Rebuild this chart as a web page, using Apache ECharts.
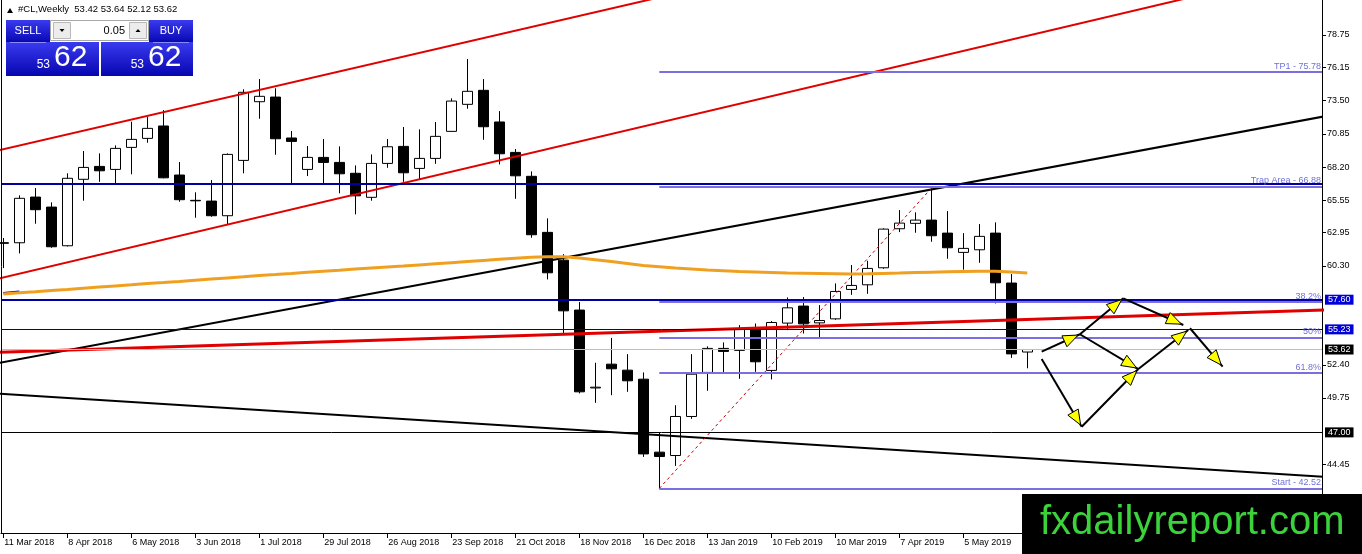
<!DOCTYPE html>
<html>
<head>
<meta charset="utf-8">
<title>#CL,Weekly</title>
<script src="https://cdn.jsdelivr.net/npm/echarts@6/dist/echarts.min.js"></script>
<style>
html, body { margin: 0; padding: 0; background: #fff; }
#main { width: 1362px; height: 554px; }
</style>
</head>
<body>
<div id="main"></div>
<script>
// weekly bars, week 0 = 11 Mar 2018, last = 2 Jun 2019
var opens  = [62.10, 62.15, 65.80, 65.00, 61.91, 67.22, 68.25, 68.01, 69.77, 70.49,
              71.48, 67.56, 65.54, 65.48, 64.31, 68.73, 73.42, 73.79, 70.52, 68.01,
              68.97, 68.57, 67.70, 65.78, 68.49, 69.85, 68.09, 68.89, 71.05, 73.21,
              74.33, 71.80, 69.37, 67.46, 62.98, 60.76, 56.77, 50.55, 52.45, 51.97,
              51.25, 45.42, 45.15, 48.27, 51.79, 53.71, 53.55, 55.23, 51.95, 55.73,
              57.09, 55.75, 56.07, 58.42, 58.79, 60.15, 63.27, 63.70, 63.96, 62.92,
              61.38, 61.59, 62.92, 58.93, 53.42];
var closes = [62.16, 65.70, 64.79, 61.83, 67.30, 68.17, 67.90, 69.69, 70.41, 71.29,
              67.34, 65.59, 65.50, 64.31, 69.21, 74.17, 73.85, 70.46, 70.25, 68.97,
              68.57, 67.66, 65.90, 68.49, 69.82, 67.74, 68.89, 70.65, 73.47, 74.25,
              71.42, 69.26, 67.50, 62.79, 59.75, 56.71, 50.24, 50.61, 52.08, 51.12,
              45.28, 45.07, 48.27, 51.65, 53.71, 53.47, 55.23, 52.64, 55.78, 56.95,
              55.67, 55.94, 58.26, 58.74, 60.10, 63.24, 63.72, 63.96, 62.71, 61.75,
              61.70, 62.66, 58.95, 53.27, 53.62];
var lows   = [60.13, 61.30, 63.67, 61.75, 61.85, 65.51, 67.02, 66.90, 67.62, 70.14,
              67.30, 65.43, 64.15, 64.23, 63.62, 67.70, 72.06, 69.18, 66.90, 67.48,
              66.90, 66.10, 64.42, 65.51, 68.14, 67.02, 67.24, 68.46, 71.00, 72.86,
              70.38, 68.41, 65.66, 62.55, 59.22, 54.90, 50.11, 49.36, 49.97, 50.24,
              45.04, 42.52, 44.32, 48.08, 50.32, 51.79, 51.28, 51.84, 51.23, 55.17,
              54.90, 54.61, 55.99, 57.99, 58.07, 60.07, 63.00, 62.95, 62.23, 60.87,
              60.00, 60.55, 57.30, 52.95, 52.12];
var highs  = [62.53, 65.94, 66.52, 65.38, 67.70, 69.48, 69.29, 69.93, 71.82, 72.22,
              72.75, 68.60, 66.18, 67.16, 69.29, 74.41, 75.23, 74.49, 71.08, 69.88,
              70.44, 69.85, 68.33, 69.21, 70.44, 71.40, 71.21, 71.80, 73.69, 76.83,
              75.23, 72.67, 69.64, 67.85, 64.10, 61.24, 57.41, 52.56, 54.55, 53.25,
              51.79, 46.96, 49.17, 53.25, 53.87, 54.19, 55.57, 55.70, 55.89, 57.78,
              57.81, 57.17, 58.90, 60.37, 60.71, 63.30, 64.76, 64.58, 66.50, 64.68,
              62.92, 63.64, 63.78, 59.65, 53.64];
// orange moving average
var maValues = [58.06, 58.15, 58.24, 58.34, 58.42, 58.52, 58.61, 58.70, 58.79, 58.89,
                58.97, 59.06, 59.16, 59.25, 59.34, 59.43, 59.53, 59.61, 59.70, 59.80,
                59.88, 59.96, 60.05, 60.13, 60.21, 60.29, 60.38, 60.47, 60.56, 60.65,
                60.74, 60.83, 60.92, 61.00, 61.04, 61.03, 60.93, 60.80, 60.65, 60.49,
                60.33, 60.23, 60.13, 60.05, 59.97, 59.91, 59.85, 59.81, 59.77, 59.73,
                59.71, 59.69, 59.67, 59.65, 59.67, 59.70, 59.73, 59.77, 59.80, 59.83,
                59.85, 59.87, 59.87, 59.81, 59.73];

var tickWeeks = [0, 4, 8, 12, 16, 20, 24, 28, 32, 36, 40, 44, 48, 52, 56, 60];
var tickDates = ['11 Mar 2018', '8 Apr 2018', '6 May 2018', '3 Jun 2018', '1 Jul 2018',
                 '29 Jul 2018', '26 Aug 2018', '23 Sep 2018', '21 Oct 2018', '18 Nov 2018',
                 '16 Dec 2018', '13 Jan 2019', '10 Feb 2019', '10 Mar 2019', '7 Apr 2019', '5 May 2019'];
var priceTicks = [78.75, 76.15, 73.50, 70.85, 68.20, 65.55, 62.95, 60.30, 52.40, 49.75, 44.45, 41.80];

// trend lines [week, price]
var channelUp   = [[-1, 69.32], [45, 82.94]];
var channelDown = [[-1, 59.07], [80, 83.51]];
var blackUp     = [[-0.5, 52.50], [83, 72.35]];
var blackDown   = [[-0.5, 50.11], [83, 43.41]];
var redSupport  = [[-0.5, 53.38], [83, 56.80]];
var fibTrend    = [[41, 42.52], [58, 66.50]];
var blueStub    = [[0, 58.14], [1, 58.26]];

// horizontal levels
var trapLevel = 66.90;
var resLevel = 57.60;
var midLevel = 55.23;
var bidLevel = 53.62;
var stopLevel = 47.00;
var fibStartWeek = 41;
var fibLevels = [75.78, 66.65, 57.43, 54.58, 51.74, 42.52];
var fibNames  = ['TP1 - 75.78', 'Trap Area - 66.88', '38.2%', '50%', '61.8%', 'Start - 42.52'];

// forecast arrows [week1, price1, week2, price2]
var arrows = [
  [64.9, 53.45, 67.29, 54.84],
  [67.29, 54.84, 70.0, 57.71],
  [70.0, 57.71, 73.75, 55.58],
  [67.29, 54.84, 70.94, 52.06],
  [64.9, 52.86, 67.4, 47.45],
  [67.4, 47.45, 70.94, 52.06],
  [70.94, 52.06, 74.06, 55.18],
  [74.17, 55.32, 76.21, 52.25]
];

var xMin = -0.144, xMax = 82.42;
var font = '"Liberation Sans", Arial, sans-serif';

var candles = [], maLine = [];
for (var i = 0; i < opens.length; i++) {
  candles.push([i, opens[i], closes[i], lows[i], highs[i]]);
  maLine.push([i, maValues[i]]);
}

function boxLabel(bg) {
  return {
    show: true, position: 'end', distance: 3,
    formatter: function (p) { return p.value.toFixed(2); },
    color: '#fff', backgroundColor: bg, padding: [1, 3, 0, 3],
    fontSize: 9, fontFamily: font
  };
}

var fibLines = fibLevels.map(function (v, i) {
  return [
    {
      coord: [fibStartWeek, v],
      lineStyle: { color: '#7b6fe0', width: 2, type: 'solid' },
      label: { show: true, position: 'insideEndTop', distance: 1, formatter: fibNames[i],
               color: '#7070d8', fontSize: 9, fontFamily: font }
    },
    { coord: [xMax, v] }
  ];
});

var last = opens.length - 1;
var ohlc = [opens[last], highs[last], lows[last], closes[last]].map(function (v) { return v.toFixed(2); });
var priceParts = closes[last].toFixed(2).split('.');

function lineSeries(name, data, color, width, type) {
  return {
    type: 'line', name: name, data: data, showSymbol: false, symbol: 'none',
    clip: true, silent: true, z: 4,
    lineStyle: { color: color, width: width, type: type || 'solid' }
  };
}

var blue = new echarts.graphic.LinearGradient(0, 0, 0, 1, [
  { offset: 0, color: '#3a3af0' }, { offset: 1, color: '#0606b0' }
]);

var myChart = echarts.init(document.getElementById('main'));
var option = {
  animation: false,
  backgroundColor: '#fff',
  grid: { left: 1, right: 40, top: 0, bottom: 21 },
  xAxis: {
    type: 'value', min: xMin, max: xMax,
    splitLine: { show: false },
    axisLine: { show: true, onZero: false, lineStyle: { color: '#000', width: 1 } },
    axisTick: { show: true, customValues: tickWeeks, length: 5, lineStyle: { color: '#000' } },
    axisLabel: {
      customValues: tickWeeks, align: 'left', margin: 5, padding: [0, 0, 0, 1],
      color: '#000', fontSize: 9, fontFamily: font,
      formatter: function (v) { return tickDates[tickWeeks.indexOf(v)] || ''; }
    }
  },
  yAxis: {
    type: 'value', position: 'right', min: 38.96, max: 81.546,
    splitLine: { show: false },
    axisLine: { show: true, onZero: false, lineStyle: { color: '#000', width: 1 } },
    axisTick: { show: true, customValues: priceTicks, length: 4, lineStyle: { color: '#000' } },
    axisLabel: {
      customValues: priceTicks, margin: 5, color: '#000', fontSize: 9, fontFamily: font,
      formatter: function (v) { return v.toFixed(2); }
    }
  },
  series: [
    {
      type: 'candlestick', name: '#CL,Weekly', data: candles,
      encode: { x: 0, y: [1, 2, 3, 4] },
      barWidth: 10, z: 2, silent: true,
      itemStyle: { color: '#fff', color0: '#000', borderColor: '#000', borderColor0: '#000', borderWidth: 1 }
    },
    lineSeries('channel up', channelUp, '#e00000', 2),
    lineSeries('channel down', channelDown, '#e00000', 2),
    lineSeries('trend up', blackUp, '#000', 2),
    lineSeries('trend down', blackDown, '#000', 2),
    lineSeries('support', redSupport, '#e00000', 3),
    lineSeries('fib trend', fibTrend, '#c00000', 1, [3, 3]),
    lineSeries('ma stub', blueStub, '#0000c0', 2),
    {
      type: 'line', name: 'MA', data: maLine, showSymbol: false, symbol: 'none',
      silent: true, z: 4, lineStyle: { color: '#f0a020', width: 3 },
      markLine: {
        silent: true, symbol: ['none', 'none'], animation: false,
        data: [
          { yAxis: trapLevel, lineStyle: { color: '#0000a0', width: 2, type: 'solid' }, label: { show: false } },
          { yAxis: resLevel, lineStyle: { color: '#0000a0', width: 2, type: 'solid' }, label: boxLabel('#0000d8') },
          { yAxis: midLevel, lineStyle: { color: '#0000a0', width: 1, type: 'solid' }, label: boxLabel('#0000d8') },
          { yAxis: bidLevel, lineStyle: { color: '#c0c0c0', width: 1, type: 'solid' }, label: boxLabel('#000') },
          { yAxis: stopLevel, lineStyle: { color: '#000', width: 1, type: 'solid' }, label: boxLabel('#000') }
        ].concat(fibLines)
      }
    },
    {
      type: 'custom', name: 'forecast', data: arrows,
      encode: { x: [0, 2], y: [1, 3] }, z: 6, silent: true, clip: false,
      renderItem: function (params, api) {
        var a = api.coord([api.value(0), api.value(1)]);
        var b = api.coord([api.value(2), api.value(3)]);
        var dx = b[0] - a[0], dy = b[1] - a[1];
        var len = Math.sqrt(dx * dx + dy * dy);
        var ux = dx / len, uy = dy / len;
        var tip = [b[0] - ux * 2, b[1] - uy * 2];
        var base = [tip[0] - ux * 15, tip[1] - uy * 15];
        var nx = -uy * 6, ny = ux * 6;
        return {
          type: 'group',
          children: [
            { type: 'line', shape: { x1: a[0], y1: a[1], x2: b[0], y2: b[1] },
              style: { stroke: '#000', lineWidth: 2 } },
            { type: 'polygon', shape: { points: [tip, [base[0] + nx, base[1] + ny], [base[0] - nx, base[1] - ny]] },
              style: { fill: '#ffff00', stroke: '#000', lineWidth: 1 } }
          ]
        };
      }
    }
  ],
  graphic: [
    // left frame of the chart window
    { type: 'line', shape: { x1: 1.5, y1: 0, x2: 1.5, y2: 533 }, style: { stroke: '#000', lineWidth: 1 }, z: 50 },
    // header
    { type: 'polygon', shape: { points: [[7, 13], [13, 13], [10, 8]] }, style: { fill: '#000' }, z: 100 },
    { type: 'text', left: 18, top: 4, z: 100,
      style: { text: '#CL,Weekly  ' + ohlc.join(' '), fill: '#000', font: '9.5px ' + font } },
    // sell / buy panel
    { type: 'rect', shape: { x: 6, y: 20, width: 44, height: 23 }, style: { fill: blue }, z: 100 },
    { type: 'rect', shape: { x: 6, y: 42, width: 93, height: 34 }, style: { fill: blue }, z: 100 },
    { type: 'rect', shape: { x: 149, y: 20, width: 44, height: 23 }, style: { fill: blue }, z: 100 },
    { type: 'rect', shape: { x: 101, y: 42, width: 92, height: 34 }, style: { fill: blue }, z: 100 },
    { type: 'line', shape: { x1: 10, y1: 42.5, x2: 46, y2: 42.5 }, style: { stroke: '#8a8aff', lineWidth: 1 }, z: 101 },
    { type: 'line', shape: { x1: 153, y1: 42.5, x2: 189, y2: 42.5 }, style: { stroke: '#8a8aff', lineWidth: 1 }, z: 101 },
    { type: 'rect', shape: { x: 50.5, y: 20.5, width: 98, height: 20 }, style: { fill: '#fff', stroke: '#a8a8a8', lineWidth: 1 }, z: 100 },
    { type: 'rect', shape: { x: 53.5, y: 22.5, width: 17, height: 16 }, style: { fill: '#ececec', stroke: '#b8b8b8', lineWidth: 1 }, z: 101 },
    { type: 'rect', shape: { x: 129.5, y: 22.5, width: 17, height: 16 }, style: { fill: '#ececec', stroke: '#b8b8b8', lineWidth: 1 }, z: 101 },
    { type: 'polygon', shape: { points: [[59.5, 29], [64.5, 29], [62, 32]] }, style: { fill: '#000' }, z: 102 },
    { type: 'polygon', shape: { points: [[135.5, 32], [140.5, 32], [138, 29]] }, style: { fill: '#000' }, z: 102 },
    { type: 'text', x: 125, y: 31, z: 102,
      style: { text: '0.05', fill: '#000', font: '11px ' + font, align: 'right', verticalAlign: 'middle' } },
    { type: 'text', x: 28, y: 31, z: 102,
      style: { text: 'SELL', fill: '#fff', font: '11px ' + font, align: 'center', verticalAlign: 'middle' } },
    { type: 'text', x: 171, y: 31, z: 102,
      style: { text: 'BUY', fill: '#fff', font: '11px ' + font, align: 'center', verticalAlign: 'middle' } },
    { type: 'text', x: 50, y: 71, z: 102,
      style: { text: priceParts[0], fill: '#fff', font: '12px ' + font, align: 'right', verticalAlign: 'bottom' } },
    { type: 'text', x: 54, y: 73, z: 102,
      style: { text: priceParts[1], fill: '#fff', font: '30px ' + font, align: 'left', verticalAlign: 'bottom' } },
    { type: 'text', x: 144, y: 71, z: 102,
      style: { text: priceParts[0], fill: '#fff', font: '12px ' + font, align: 'right', verticalAlign: 'bottom' } },
    { type: 'text', x: 148, y: 73, z: 102,
      style: { text: priceParts[1], fill: '#fff', font: '30px ' + font, align: 'left', verticalAlign: 'bottom' } },
    // watermark banner
    { type: 'rect', shape: { x: 1022, y: 494, width: 340, height: 60 }, style: { fill: '#000' }, z: 100 },
    { type: 'text', x: 1040, y: 523, z: 101,
      style: { text: 'fxdailyreport.com', fill: '#3cd23c', font: '40px ' + font, verticalAlign: 'middle' } }
  ]
};
myChart.setOption(option);
</script>
</body>
</html>
